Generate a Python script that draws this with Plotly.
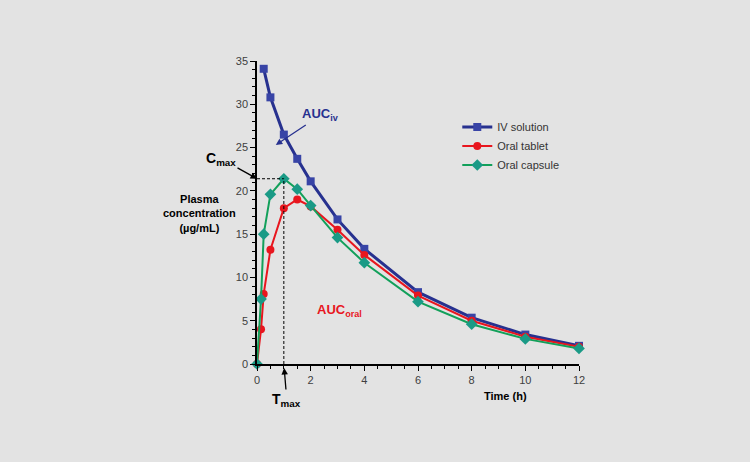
import plotly.graph_objects as go

# sampling times (h)
iv_time = [0.25, 0.5, 1, 1.5, 2, 3, 4, 6, 8, 10, 12]
iv_conc = [34.1, 30.8, 26.5, 23.7, 21.1, 16.7, 13.3, 8.3, 5.35, 3.4, 2.1]

oral_time = [0, 0.15, 0.25, 0.5, 1, 1.5, 2, 3, 4, 6, 8, 10, 12]
tablet_conc = [0, 4.0, 8.1, 13.2, 18.0, 19.0, 18.2, 15.5, 12.6, 7.9, 5.0, 3.15, 2.0]
capsule_conc = [0, 7.5, 15.0, 19.6, 21.4, 20.2, 18.3, 14.6, 11.7, 7.2, 4.6, 2.9, 1.8]

cmax = 21.4
tmax = 1

BG = '#e3e3e3'
FONT = 'Liberation Sans'

fig = go.Figure()
fig.add_trace(go.Scatter(
    x=iv_time, y=iv_conc, mode='lines+markers', name='IV solution',
    line=dict(color='#27318f', width=3),
    marker=dict(symbol='square', size=8, color='#3844a6'),
    cliponaxis=False
))
fig.add_trace(go.Scatter(
    x=oral_time, y=tablet_conc, mode='lines+markers', name='Oral tablet',
    line=dict(color='#e8161e', width=2),
    marker=dict(symbol='circle', size=8, color='#e8161e'),
    cliponaxis=False
))
fig.add_trace(go.Scatter(
    x=oral_time, y=capsule_conc, mode='lines+markers', name='Oral capsule',
    line=dict(color='#12a05a', width=2),
    marker=dict(symbol='diamond', size=9, color='#1a9a86'),
    cliponaxis=False
))

# Cmax / Tmax dashed guides
fig.add_shape(type='line', x0=0, x1=tmax, y0=cmax, y1=cmax,
              line=dict(color='black', width=1, dash='3px,2px'))
fig.add_shape(type='line', x0=tmax, x1=tmax, y0=0, y1=cmax,
              line=dict(color='black', width=1, dash='3px,2px'))

fig.add_annotation(x=0, y=cmax, xref='x', yref='y', ax=-36, ay=-20,
                   text='<b>C<sub>max</sub></b>', showarrow=True,
                   arrowhead=2, arrowsize=1, arrowwidth=1.3, arrowcolor='black',
                   font=dict(size=14, color='black', family=FONT))
fig.add_annotation(x=tmax, y=0, xref='x', yref='y', ax=3, ay=36,
                   text='<b>T<sub>max</sub></b>', showarrow=True, standoff=4,
                   arrowhead=2, arrowsize=1, arrowwidth=1.3, arrowcolor='black',
                   font=dict(size=14, color='black', family=FONT))
fig.add_annotation(x=0.7, y=25.3, xref='x', yref='y', ax=45, ay=-30,
                   text='<b>AUC<sub>iv</sub></b>', showarrow=True,
                   arrowhead=2, arrowsize=1, arrowwidth=1.3, arrowcolor='#27318f',
                   font=dict(size=13, color='#27318f', family=FONT))
fig.add_annotation(x=3.06, y=6.2, xref='x', yref='y', showarrow=False,
                   text='<b>AUC<sub>oral</sub></b>',
                   font=dict(size=13, color='#e8161e', family=FONT))
fig.add_annotation(x=-0.18, y=0.498, xref='paper', yref='paper', showarrow=False,
                   text='<b>Plasma<br>concentration<br>(µg/mL)</b>',
                   align='center', xanchor='center', yanchor='middle',
                   font=dict(size=11, color='black', family=FONT))
fig.add_annotation(x=(529 - 257) / 322, y=-0.105, xref='paper', yref='paper', showarrow=False,
                   text='<b>Time (h)</b>', yanchor='middle',
                   font=dict(size=11, color='black', family=FONT))

fig.update_layout(
    width=750, height=462,
    paper_bgcolor=BG, plot_bgcolor=BG,
    margin=dict(l=257, r=171, t=61, b=98),
    font=dict(family=FONT, size=11, color='#404040'),
    showlegend=True,
    legend=dict(
        x=0.622, y=0.83, xanchor='left', yanchor='top',
        bgcolor='rgba(0,0,0,0)', font=dict(size=11, color='#333333'),
        itemwidth=30, tracegroupgap=4
    ),
    xaxis=dict(
        range=[0, 12], tickvals=[0, 2, 4, 6, 8, 10, 12],
        showgrid=False, zeroline=False, showline=True,
        linecolor='black', linewidth=1.5,
        ticks='outside', ticklen=5, tickcolor='black',
        minor=dict(dtick=0.5, ticks='outside', ticklen=3, tickcolor='black', showgrid=False)
    ),
    yaxis=dict(
        range=[0, 35], dtick=5,
        showgrid=False, zeroline=False, showline=True,
        linecolor='black', linewidth=1.5,
        ticks='outside', ticklen=5, tickcolor='black',
        minor=dict(dtick=1, ticks='outside', ticklen=3, tickcolor='black', showgrid=False)
    )
)

fig.write_html("out.html", config={'displayModeBar': False},
               post_script="document.body.style.margin='0';document.body.style.background='#e3e3e3';")
